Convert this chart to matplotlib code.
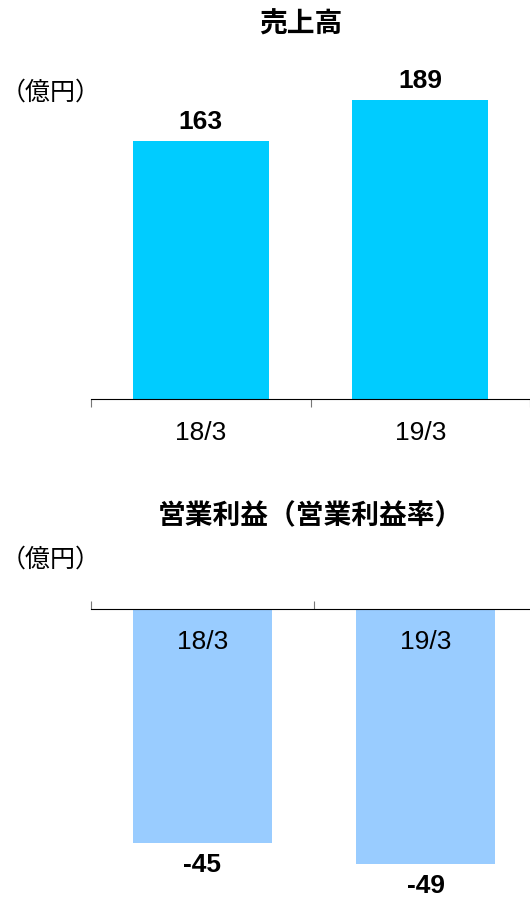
import matplotlib.pyplot as plt

plt.rcParams['font.family'] = ['Liberation Sans', 'Noto Sans CJK JP', 'DejaVu Sans']

periods = ['18/3', '19/3']
sales = [163, 189]
op_income = [-45, -49]

W, H = 530, 899
fig = plt.figure(figsize=(W / 100, H / 100), dpi=100)


def px_axes(left, top, right, bottom):
    return fig.add_axes([left / W, 1 - bottom / H, (right - left) / W, (bottom - top) / H])


# ---------------- 売上高 ----------------
ax1 = px_axes(91, 60, 530, 399)
x = range(len(periods))
ax1.bar(x, sales, width=0.62, color='#00CCFF')
ax1.set_xlim(-0.5, 1.5)
ax1.set_ylim(0, 214)
for s in ['top', 'right', 'left']:
    ax1.spines[s].set_visible(False)
ax1.spines['bottom'].set_color('black')
ax1.set_yticks([])
ax1.set_xticks([-0.5, 0.5, 1.5])
ax1.set_xticklabels([])
ax1.tick_params(axis='x', which='major', length=6, color='#777777', direction='out')
ax1.set_xticks(list(x), minor=True)
ax1.set_xticklabels(periods, minor=True, fontsize=19)
ax1.tick_params(axis='x', which='minor', length=0, pad=16)
for i, v in enumerate(sales):
    ax1.annotate(str(v), (i, v), xytext=(0, 5), textcoords='offset points',
                 ha='center', va='bottom', fontsize=19, fontweight='bold')

fig.text(301 / W, 1 - 25 / H, '売上高', ha='center', va='center', fontsize=20,
         fontweight='bold')
fig.text(1 / W, 1 - 93 / H, '（億円）', ha='left', va='center', fontsize=18)

# ---------------- 営業利益 ----------------
ax2 = px_axes(91, 609, 530, 890)
ax2.bar(x, op_income, width=0.62, color='#99CCFF')
ax2.set_xlim(-0.5, 439 / 223 - 0.5)
ax2.set_ylim(-54, 0)
for s in ['bottom', 'right', 'left']:
    ax2.spines[s].set_visible(False)
ax2.spines['top'].set_color('black')
ax2.set_yticks([])
ax2.xaxis.tick_top()
ax2.set_xticks([-0.5, 0.5])
ax2.set_xticklabels([])
ax2.tick_params(axis='x', which='major', length=6, color='#777777', direction='out')
ax2.tick_params(axis='x', which='minor', length=0)
for i, v in enumerate(op_income):
    ax2.annotate(periods[i], (i, 0), xytext=(0, -23.5), textcoords='offset points',
                 ha='center', va='center', fontsize=19)
    ax2.annotate(str(v), (i, v), xytext=(0, -7), textcoords='offset points',
                 ha='center', va='top', fontsize=19, fontweight='bold')

fig.text(310 / W, 1 - 517 / H, '営業利益（営業利益率）', ha='center', va='center',
         fontsize=20, fontweight='bold')
fig.text(1 / W, 1 - 560 / H, '（億円）', ha='left', va='center', fontsize=18)

fig.savefig('out.png', dpi=100)
